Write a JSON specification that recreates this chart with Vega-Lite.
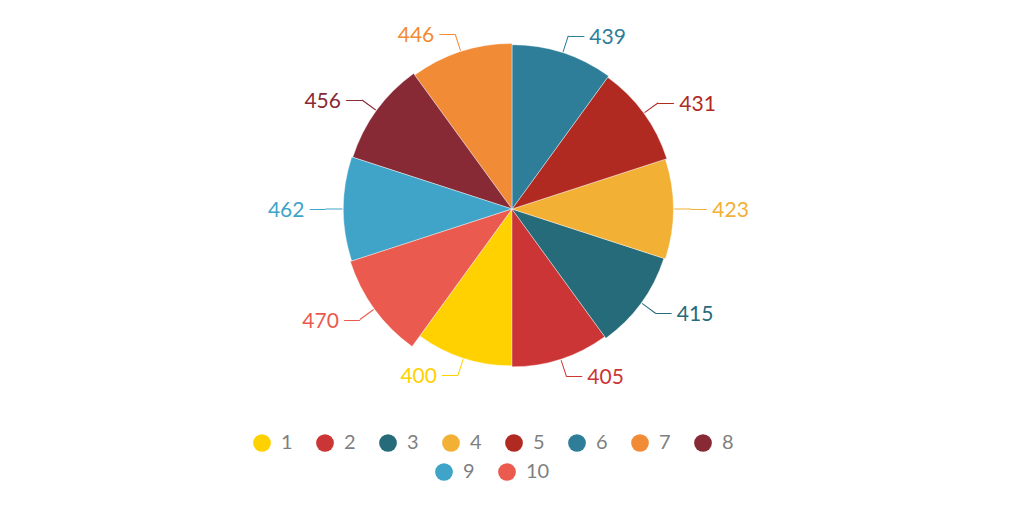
{
  "$schema": "https://vega.github.io/schema/vega-lite/v6.json",
  "description": "Rose chart, ten categories",
  "width": 1024,
  "height": 418,
  "padding": 0,
  "background": "white",
  "data": {
    "values": [
      {"cat": 1, "value": 400},
      {"cat": 2, "value": 405},
      {"cat": 3, "value": 415},
      {"cat": 4, "value": 423},
      {"cat": 5, "value": 431},
      {"cat": 6, "value": 439},
      {"cat": 7, "value": 446},
      {"cat": 8, "value": 456},
      {"cat": 9, "value": 462},
      {"cat": 10, "value": 470}
    ]
  },
  "transform": [
    {"aggregate": [{"op": "count", "as": "n"}], "groupby": ["cat", "value"]},
    {"stack": "n", "groupby": [], "sort": [{"field": "cat", "order": "ascending"}], "as": ["t0", "t1"]}
  ],
  "encoding": {
    "theta": {
      "field": "t0",
      "type": "quantitative",
      "stack": null,
      "scale": {"domain": [0, 10], "range": [3.769911, -2.513274]}
    },
    "radius": {
      "field": "value",
      "type": "quantitative",
      "scale": {"type": "sqrt", "zero": true, "domain": [0, 470], "range": [0, 170]}
    }
  },
  "layer": [
    {
      "mark": {"type": "arc", "stroke": "#ffffff", "strokeWidth": 0.4},
      "encoding": {
        "theta2": {"field": "t1"},
        "color": {
          "field": "cat",
          "type": "nominal",
          "scale": {
            "domain": [1, 2, 3, 4, 5, 6, 7, 8, 9, 10],
            "range": ["#ffd100", "#cc3535", "#266b7a", "#f2b035", "#b02a21", "#2e7e9a", "#f28b35", "#882a35", "#40a4c8", "#ea5a4f"]
          },
          "legend": {
            "values": [1, 2, 3, 4, 5, 6, 7, 8],
            "orient": "none",
            "legendX": 252,
            "legendY": 433,
            "direction": "horizontal",
            "title": null,
            "padding": 0,
            "symbolType": "circle",
            "symbolSize": 314,
            "symbolStrokeWidth": 0,
            "labelFont": "Lato",
            "labelFontSize": 20,
            "labelColor": "#7f7f7f",
            "labelOffset": 9,
            "columnPadding": 22
          }
        }
      }
    },
    {
      "mark": {
        "type": "arc",
        "radiusOffset": 18,
        "radius2Offset": 1,
        "thetaOffset": -0.31116,
        "theta2Offset": 0.31116
      },
      "encoding": {
        "theta2": {"field": "t1"},
        "radius2": {"field": "value"},
        "color": {
          "field": "cat",
          "type": "nominal",
          "scale": {
            "domain": [1, 2, 3, 4, 5, 6, 7, 8, 9, 10],
            "range": ["#ffd100", "#cc3535", "#266b7a", "#f2b035", "#b02a21", "#2e7e9a", "#f28b35", "#882a35", "#40a4c8", "#ea5a4f"]
          },
          "legend": {
            "values": [9, 10],
            "orient": "none",
            "legendX": 434,
            "legendY": 462,
            "direction": "horizontal",
            "title": null,
            "padding": 0,
            "symbolType": "circle",
            "symbolSize": 314,
            "symbolStrokeWidth": 0,
            "labelFont": "Lato",
            "labelFontSize": 20,
            "labelColor": "#7f7f7f",
            "labelOffset": 9,
            "columnPadding": 22
          }
        }
      }
    },
    {
      "mark": {
        "type": "text",
        "radiusOffset": 18,
        "thetaOffset": -0.314159,
        "font": "DejaVu Sans",
        "fontSize": 13,
        "baseline": "middle",
        "dy": 1,
        "align": {"expr": "datum.cat >= 2 && datum.cat <= 6 ? 'left' : 'right'"}
      },
      "encoding": {
        "text": {"value": "──"},
        "color": {
          "field": "cat",
          "type": "nominal",
          "scale": {
            "domain": [1, 2, 3, 4, 5, 6, 7, 8, 9, 10],
            "range": ["#ffd100", "#cc3535", "#266b7a", "#f2b035", "#b02a21", "#2e7e9a", "#f28b35", "#882a35", "#40a4c8", "#ea5a4f"]
          },
          "legend": null
        }
      }
    },
    {
      "mark": {
        "type": "text",
        "radiusOffset": 18,
        "thetaOffset": -0.314159,
        "font": "Lato",
        "fontSize": 21,
        "baseline": "middle",
        "dy": 2,
        "align": {"expr": "datum.cat >= 2 && datum.cat <= 6 ? 'left' : 'right'"},
        "dx": {"expr": "datum.cat >= 2 && datum.cat <= 6 ? 21 : -21"}
      },
      "encoding": {
        "text": {"field": "value", "type": "quantitative"},
        "color": {
          "field": "cat",
          "type": "nominal",
          "scale": {
            "domain": [1, 2, 3, 4, 5, 6, 7, 8, 9, 10],
            "range": ["#ffd100", "#cc3535", "#266b7a", "#f2b035", "#b02a21", "#2e7e9a", "#f28b35", "#882a35", "#40a4c8", "#ea5a4f"]
          },
          "legend": null
        }
      }
    }
  ],
  "resolve": {"scale": {"color": "independent"}},
  "config": {"view": {"stroke": null}}
}
